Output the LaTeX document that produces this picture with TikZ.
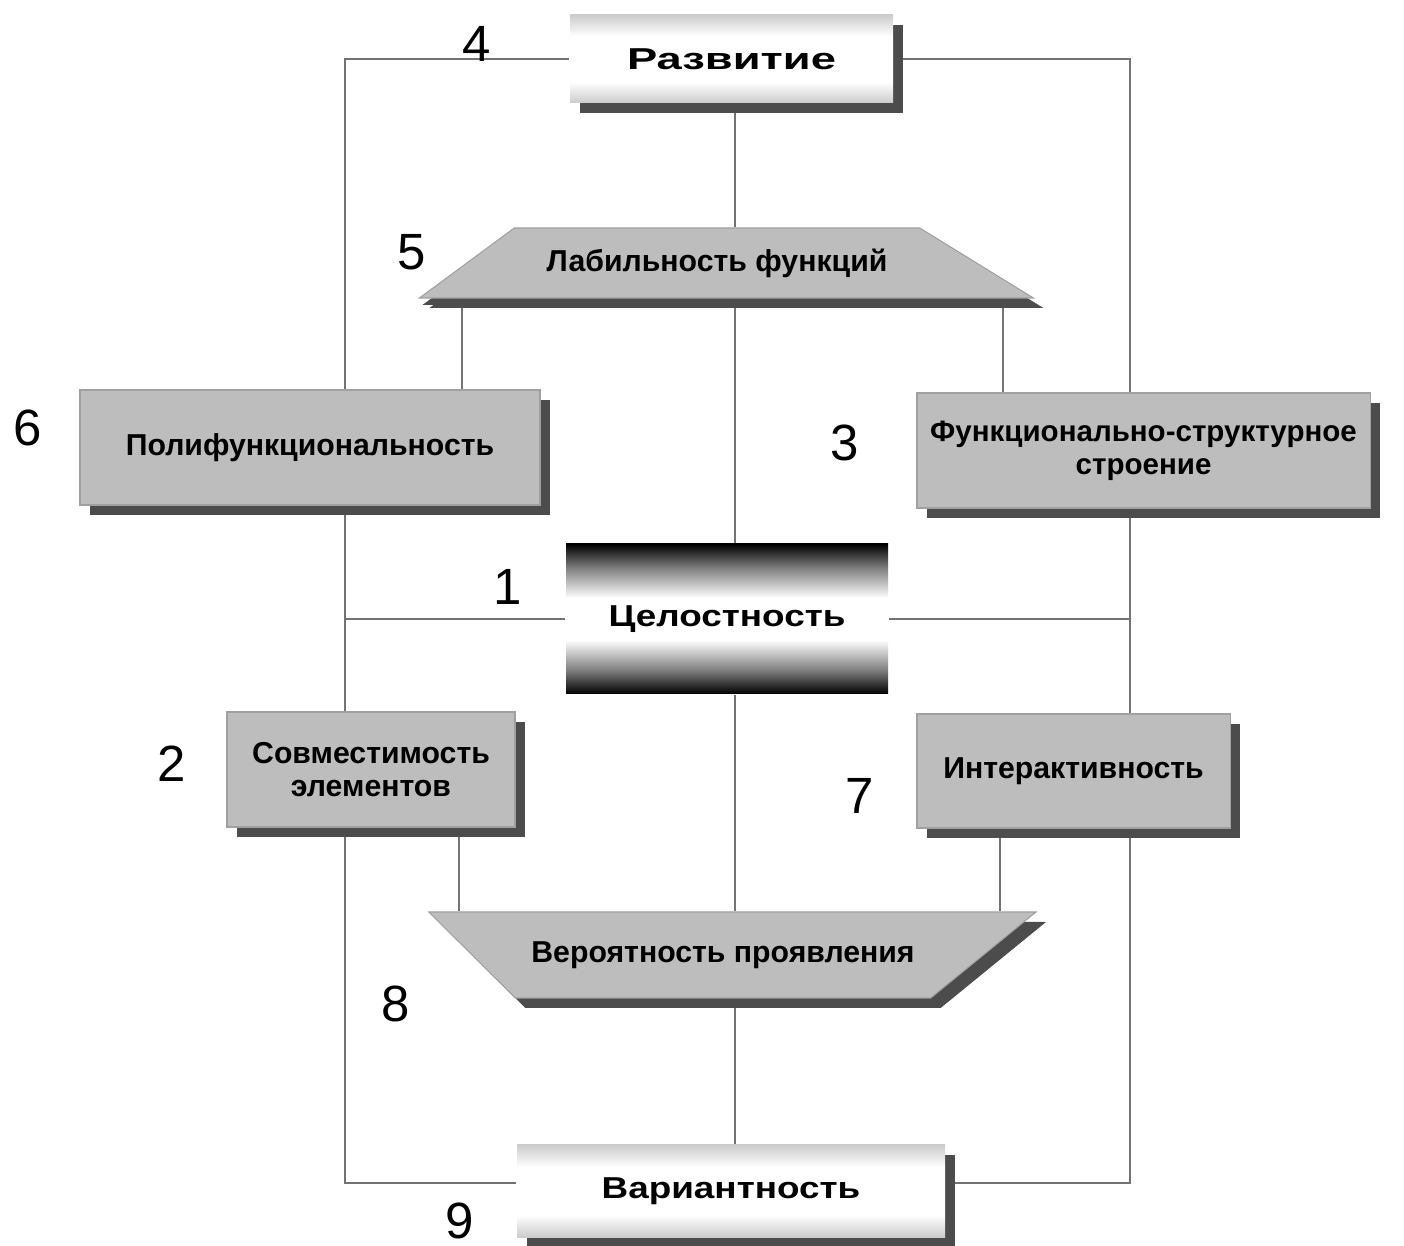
\documentclass[tikz,border=0pt]{standalone}
\usepackage{fontspec}
\setmainfont{Liberation Sans}
\newfontfamily\widefont{Liberation Sans}[FakeStretch=1.22]
\newfontfamily\widerfont{Liberation Sans}[FakeStretch=1.5]
\usetikzlibrary{shapes.geometric,shadows,backgrounds}

\definecolor{boxgray}{gray}{0.74}
\definecolor{shadowgray}{gray}{0.3}
\definecolor{linegray}{gray}{0.45}

\pgfdeclareverticalshading{lightband}{100bp}{color(0bp)=(gray!40); color(25bp)=(gray!40); color(37bp)=(white); color(63bp)=(white); color(75bp)=(gray!40); color(100bp)=(gray!40)}
\pgfdeclareverticalshading{darkband}{100bp}{color(0bp)=(black); color(25bp)=(black); color(33bp)=(gray); color(43bp)=(white); color(57bp)=(white); color(67bp)=(gray); color(75bp)=(black); color(100bp)=(black)}

\newcommand\blockfont{\bfseries\fontsize{8.6}{9.6}\selectfont}
\newcommand\numfont{\fontsize{14.5}{17}\selectfont}

\tikzset{
	link/.style={draw=linegray, line width=0.5pt},
	flat/.style={rectangle, fill=boxgray, draw=boxgray!85!black, line width=0.3pt,
		font=\blockfont, align=center, inner sep=2pt},
	block/.style={flat,
		drop shadow={shadow xshift=0.1cm, shadow yshift=-0.1cm, fill=shadowgray, opacity=1}},
	lightblock/.style={block, draw=none, shading=lightband},
	slope/.style={block, trapezium, trapezium stretches=true},
	num/.style={font=\numfont},
}

\begin{document}
\begin{tikzpicture}
	\useasboundingbox (0,0) rectangle (14.04,12.45);

	% les blocs
	\node[lightblock, minimum width=3.23cm, minimum height=0.88cm,
		font=\widerfont\bfseries\fontsize{8.6}{10}\selectfont] (razv) at (7.315,11.86) {Развитие};
	\node[slope, minimum width=6.15cm, minimum height=0.70cm,
		trapezium left angle=27.3, trapezium right angle=23.3,
		drop shadow={shadow xshift=0.03cm, shadow yshift=-0.07cm, fill=shadowgray, opacity=1}] (lab) at (7.17,9.82) {Лабильность функций};
	\node[block, minimum width=4.60cm, minimum height=1.15cm] (poly) at (3.10,7.975) {Полифункциональность};
	\node[block, minimum width=4.53cm, minimum height=1.15cm, font=\blockfont\fontsize{8.4}{9.4}\selectfont] (func) at (11.435,7.945) {Функционально-структурное\\строение};
	\node[flat, draw=none, shading=darkband, minimum width=3.22cm, minimum height=1.50cm,
		font=\widefont\bfseries\fontsize{8.6}{10}\selectfont] (cel) at (7.27,6.26) {Целостность};
	\node[block, minimum width=2.88cm, minimum height=1.15cm] (sovm) at (3.71,4.755) {Совместимость\\элементов};
	\node[block, minimum width=3.13cm, minimum height=1.14cm] (inter) at (10.735,4.74) {Интерактивность};
	\node[slope, minimum width=6.08cm, minimum height=0.86cm,
		trapezium left angle=153.6, trapezium right angle=157.8] (ver) at (7.23,2.90) {Вероятность проявления};
	\node[lightblock, minimum width=4.28cm, minimum height=0.92cm,
		font=\widefont\bfseries\fontsize{8.6}{10}\selectfont] (var) at (7.31,0.54) {Вариантность};

	% les numeros
	\node[num] (n1) at (5.08,6.58) {1};
	\node[num] (n2) at (1.72,4.81) {2};
	\node[num] (n3) at (8.45,8.02) {3};
	\node[num] (n4) at (4.77,12.01) {4};
	\node[num] (n5) at (4.12,9.93) {5};
	\node[num] (n6) at (0.28,8.17) {6};
	\node[num] (n7) at (8.60,4.49) {7};
	\node[num] (n8) at (3.96,2.41) {8};
	\node[num] (n9) at (4.60,0.24) {9};

	\coordinate (bl) at (3.45,0.62);
	\coordinate (br) at (11.30,0.62);
	\coordinate (mid) at (7.35,0);
	\coordinate (pL) at (4.62,0);
	\coordinate (pR) at (10.03,0);
	\coordinate (qL) at (4.59,0);
	\coordinate (qR) at (10.00,0);

	% les liaisons
	\begin{scope}[on background layer]
		\draw[link] (razv.west) -| (bl) -- (bl -| var.west);
		\draw[link] (razv.east) -| (br) -- (br -| var.east);
		\draw[link] (razv.south -| mid) -- (lab.north -| mid);
		\draw[link] (lab.south -| mid) -- (cel.north -| mid);
		\draw[link] (cel.south -| mid) -- (ver.north -| mid);
		\draw[link] (ver.south -| mid) -- (var.north -| mid);
		\draw[link] (cel.west) -- (cel.west -| bl);
		\draw[link] (cel.east) -- (cel.east -| br);
		\draw[link] (lab.south -| pL) -- (poly.north -| pL);
		\draw[link] (lab.south -| pR) -- (func.north -| pR);
		\draw[link] (sovm.south -| qL) -- (ver.north -| qL);
		\draw[link] (inter.south -| qR) -- (ver.north -| qR);
	\end{scope}
\end{tikzpicture}
\end{document}
